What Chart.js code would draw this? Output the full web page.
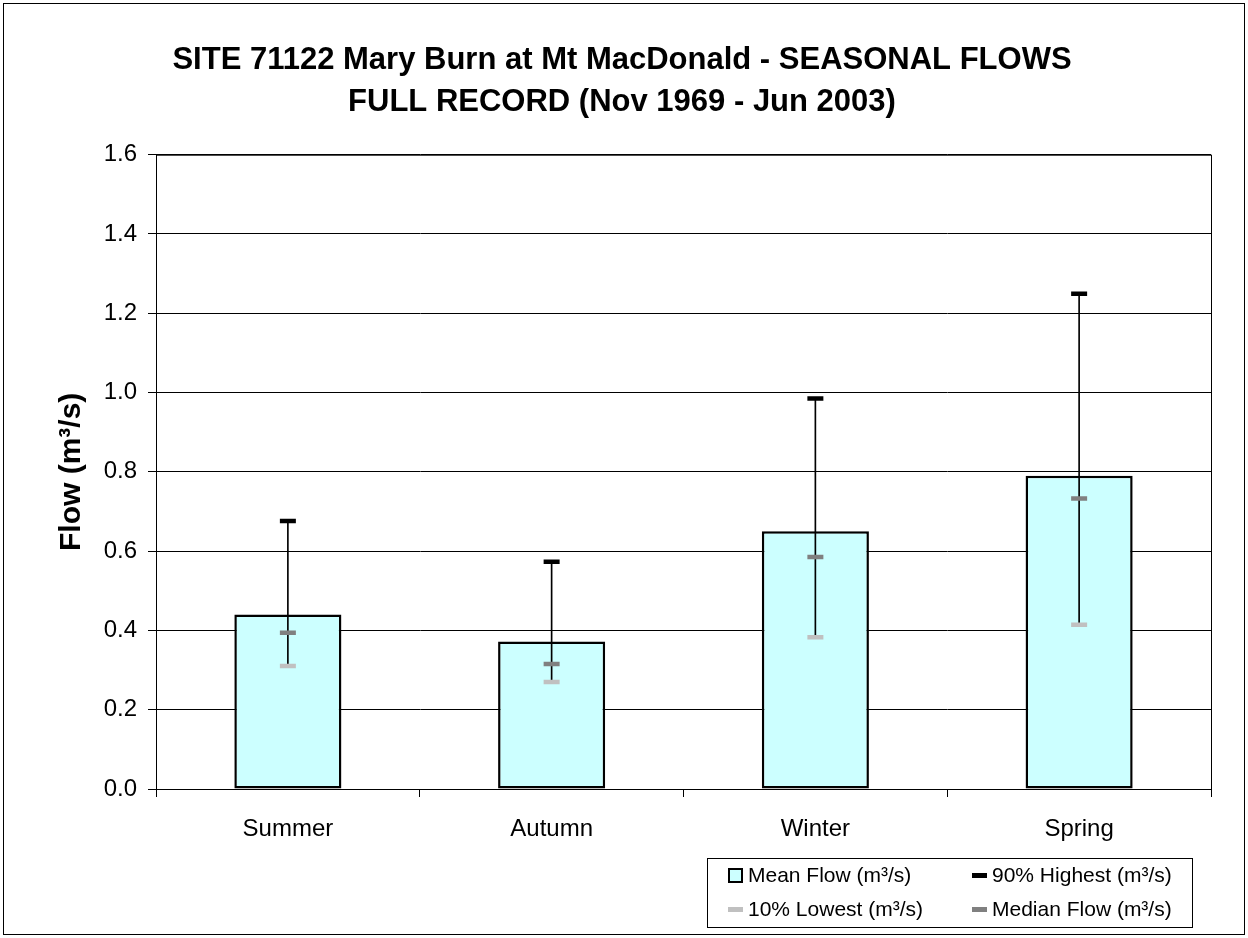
<!DOCTYPE html>
<html>
<head>
<meta charset="utf-8">
<script src="https://cdn.jsdelivr.net/npm/chart.js@4.4.1/dist/chart.umd.min.js"></script>
<style>
  body { margin: 0; background: #fff; font-family: "Liberation Sans", Arial, sans-serif; }
  #wrap { position: relative; width: 1248px; height: 938px; }
  #frame { position: absolute; left: 3px; top: 3px; width: 1242px; height: 932px; border: 1px solid #000; box-sizing: border-box; pointer-events: none; }
  #legend { position: absolute; left: 707px; top: 858px; width: 486px; height: 70px; border: 1px solid #000; box-sizing: border-box; font-size: 21px; color: #000; }
  .item { position: absolute; display: flex; align-items: center; height: 24px; white-space: nowrap; }
  .swatch { width: 15px; height: 15px; margin-right: 5px; box-sizing: border-box; }
  .dash { width: 15px; height: 5px; margin-right: 5px; }
</style>
</head>
<body>
<div id="wrap">
  <canvas id="chart" width="1248" height="938"></canvas>
  <div id="frame"></div>
  <div id="legend"></div>
</div>
<script>
const categories = ['Summer', 'Autumn', 'Winter', 'Spring'];
const meanFlow = [0.44, 0.372, 0.65, 0.79];
const highest90 = [0.676, 0.573, 0.985, 1.249];
const medianFlow = [0.394, 0.315, 0.585, 0.733];
const lowest10 = [0.31, 0.27, 0.383, 0.414];
const yTicks = [0, 0.2, 0.4, 0.6, 0.8, 1.0, 1.2, 1.4, 1.6];

const FONT = '"Liberation Sans", Arial, sans-serif';

// outline round the plot area, like the Excel plot frame
const plotFrame = {
  id: 'plotFrame',
  afterDraw(chart) {
    const { ctx, chartArea: a } = chart;
    ctx.save();
    ctx.strokeStyle = '#000';
    ctx.lineWidth = 1;
    ctx.strokeRect(a.left + 0.5, a.top + 0.5, a.right - a.left, a.bottom - a.top);
    ctx.restore();
  }
};

function marker(label, data, color, order) {
  return {
    type: 'line',
    label: label,
    data: data,
    showLine: false,
    pointStyle: 'line',
    pointRadius: 8,
    pointHoverRadius: 8,
    pointBorderWidth: 4.5,
    borderColor: color,
    backgroundColor: color,
    order: order
  };
}

const ctx = document.getElementById('chart').getContext('2d');
const chart = new Chart(ctx, {
  type: 'bar',
  data: {
    labels: categories,
    datasets: [
      marker('90% Highest (m³/s)', highest90, '#000000', 0),
      marker('Median Flow (m³/s)', medianFlow, '#808080', 1),
      marker('10% Lowest (m³/s)', lowest10, '#c0c0c0', 2),
      {
        label: 'range',
        data: lowest10.map((v, i) => [v, highest90[i]]),
        backgroundColor: '#000',
        borderWidth: 0,
        barThickness: 1,
        grouped: false,
        order: 3
      },
      {
        label: 'Mean Flow (m³/s)',
        data: meanFlow,
        backgroundColor: '#ccffff',
        borderColor: '#000',
        borderWidth: 2.5,
        borderSkipped: false,
        categoryPercentage: 1,
        barPercentage: 0.406,
        grouped: false,
        order: 4
      }
    ]
  },
  options: {
    responsive: false,
    animation: false,
    events: [],
    layout: { padding: { left: 0, right: 4, top: 0, bottom: 0 } },
    plugins: {
      legend: { display: false },
      tooltip: { enabled: false },
      title: {
        display: true,
        text: ['SITE 71122 Mary Burn at Mt MacDonald - SEASONAL FLOWS', 'FULL RECORD (Nov 1969 - Jun 2003)'],
        color: '#000',
        font: { family: FONT, size: 31, weight: 'bold', lineHeight: 1.35 },
        padding: { top: 40, bottom: 31 }
      }
    },
    scales: {
      x: {
        offset: true,
        grid: { offset: true, drawOnChartArea: false, drawTicks: true, tickLength: 8, color: '#000' },
        border: { color: '#000', width: 1 },
        ticks: { color: '#000', padding: 18, font: { family: FONT, size: 24 } },
        afterFit(s) { s.height = 149; }
      },
      y: {
        min: 0,
        max: 1.6,
        afterBuildTicks(s) { s.ticks = yTicks.map(v => ({ value: v })); },
        grid: { color: '#000', lineWidth: 1, tickLength: 8 },
        border: { color: '#000', width: 1 },
        ticks: { color: '#000', padding: 11, font: { family: FONT, size: 24 }, callback: v => v.toFixed(1) },
        title: {
          display: true,
          text: 'Flow (m³/s)',
          color: '#000',
          font: { family: FONT, size: 30, weight: 'bold', lineHeight: 1.2 },
          padding: { top: 54, bottom: 0 }
        },
        afterFit(s) { s.width = 156; }
      },
      // empty right-hand strip so the title stays centred on the page
      y2: {
        position: 'right',
        grid: { drawOnChartArea: false, drawTicks: false },
        border: { display: false },
        ticks: { display: false },
        afterFit(s) { s.width = 33; }
      }
    }
  },
  plugins: [plotFrame]
});

// legend box, two columns, built from the chart's datasets
const legendSpots = {
  'Mean Flow (m³/s)': [20, 4],
  '90% Highest (m³/s)': [264, 4],
  '10% Lowest (m³/s)': [20, 38],
  'Median Flow (m³/s)': [264, 38]
};
const legendEl = document.getElementById('legend');
chart.data.datasets.forEach(ds => {
  const spot = legendSpots[ds.label];
  if (!spot) return;
  const item = document.createElement('div');
  item.className = 'item';
  item.style.left = spot[0] + 'px';
  item.style.top = spot[1] + 'px';
  const mark = document.createElement('span');
  if (ds.type === 'line') {
    mark.className = 'dash';
    mark.style.background = ds.borderColor;
  } else {
    mark.className = 'swatch';
    mark.style.background = ds.backgroundColor;
    mark.style.border = '2px solid #000';
  }
  item.appendChild(mark);
  item.appendChild(document.createTextNode(ds.label));
  legendEl.appendChild(item);
});
</script>
</body>
</html>
